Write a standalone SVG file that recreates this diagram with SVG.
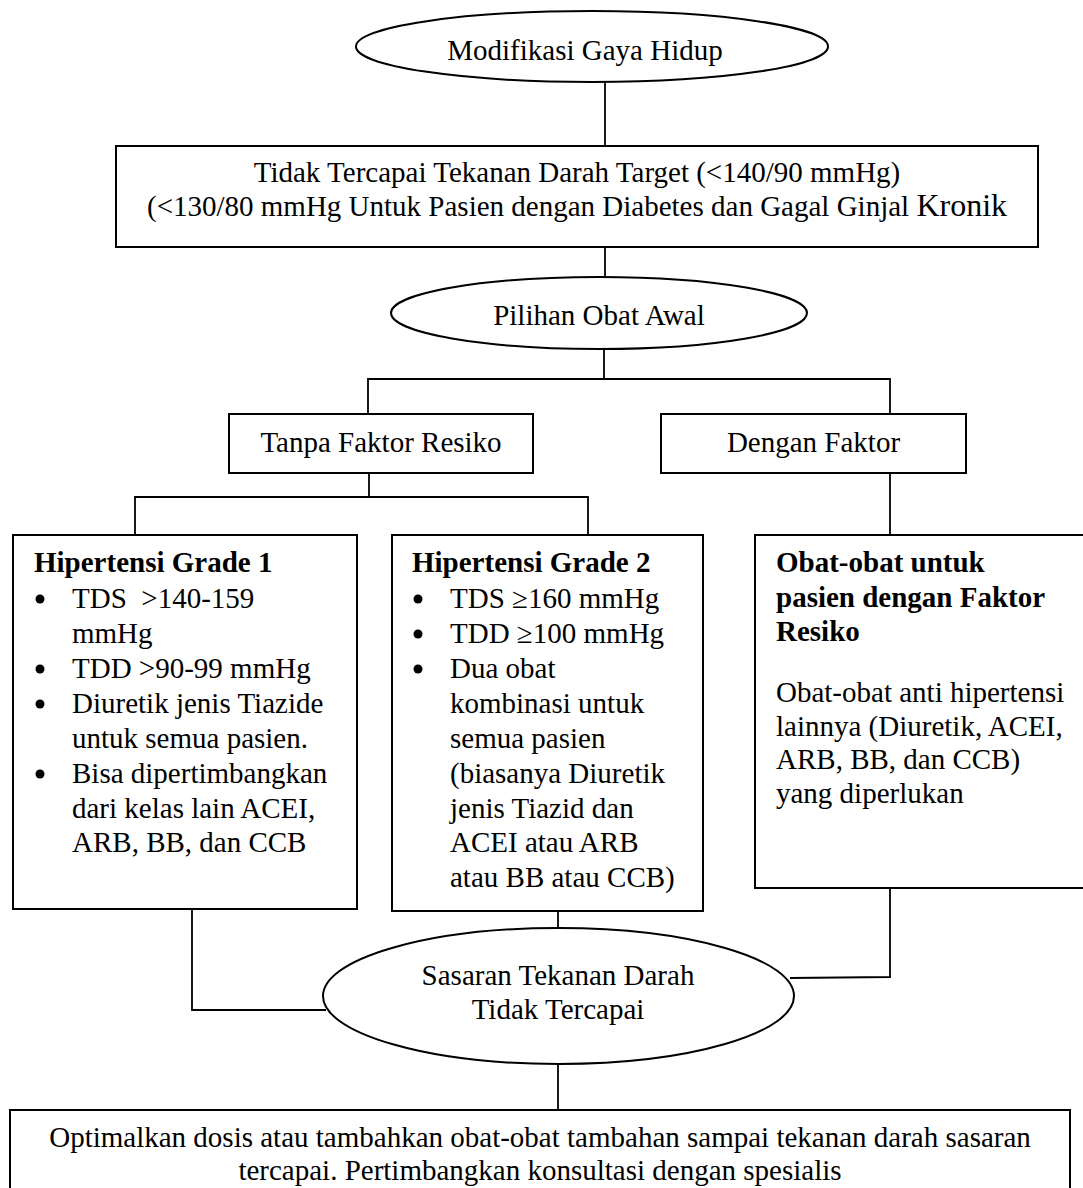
<svg xmlns="http://www.w3.org/2000/svg" width="1083" height="1188" viewBox="0 0 1083 1188">
<style>
  text { font-family: "Liberation Serif", "Times New Roman", serif; font-size: 29px; fill: #000; }
  .c { text-anchor: middle; }
  .b { font-weight: bold; }
  .shape { fill: #fff; stroke: #000; stroke-width: 2; }
  .conn { fill: none; stroke: #000; stroke-width: 1.8; }
  .dot { fill: #000; }
</style>
<rect width="1083" height="1188" fill="#fff"/>
<g id="connectors">
  <line class="conn" x1="605" y1="82" x2="605" y2="146"/>
  <line class="conn" x1="605" y1="247" x2="605" y2="277"/>
  <line class="conn" x1="604" y1="349" x2="604" y2="379"/>
  <polyline class="conn" points="368,414 368,379 890,379 890,414"/>
  <line class="conn" x1="369" y1="473" x2="369" y2="497"/>
  <polyline class="conn" points="135,535 135,497 588,497 588,535"/>
  <line class="conn" x1="890" y1="473" x2="890" y2="535"/>
  <polyline class="conn" points="192,909 192,1010 326,1010"/>
  <line class="conn" x1="558" y1="911" x2="558" y2="928"/>
  <polyline class="conn" points="890,888 890,977 790,978"/>
  <line class="conn" x1="558" y1="1064" x2="558" y2="1110"/>
</g>
<g id="modifikasi">
  <ellipse class="shape" cx="592" cy="46.5" rx="236" ry="35.5"/>
  <text class="c" x="585" y="60">Modifikasi Gaya Hidup</text>
</g>
<g id="target">
  <rect class="shape" x="116" y="146" width="922" height="101"/>
  <text class="c" x="577" y="182">Tidak Tercapai Tekanan Darah Target (&lt;140/90 mmHg)</text>
  <text class="c" x="577" y="216">(&lt;130/80 mmHg Untuk Pasien dengan Diabetes dan Gagal Ginjal <tspan font-size="32">Kronik</tspan></text>
</g>
<g id="pilihan">
  <ellipse class="shape" cx="599" cy="313" rx="208" ry="36"/>
  <text class="c" x="599" y="325">Pilihan Obat Awal</text>
</g>
<g id="tanpa">
  <rect class="shape" x="229" y="414" width="304" height="59"/>
  <text class="c" x="381" y="452">Tanpa Faktor Resiko</text>
</g>
<g id="dengan">
  <rect class="shape" x="661" y="414" width="305" height="59"/>
  <text class="c" x="813.5" y="452">Dengan Faktor</text>
</g>
<g id="grade1">
  <rect class="shape" x="13" y="535" width="344" height="374"/>
  <text class="b" x="34" y="572">Hipertensi Grade 1</text>
  <circle class="dot" cx="40" cy="599" r="4.5"/>
  <text x="72" y="608" xml:space="preserve">TDS  &gt;140-159</text>
  <text x="72" y="643">mmHg</text>
  <circle class="dot" cx="40" cy="669" r="4.5"/>
  <text x="72" y="678">TDD &gt;90-99 mmHg</text>
  <circle class="dot" cx="40" cy="704" r="4.5"/>
  <text x="72" y="713">Diuretik jenis Tiazide</text>
  <text x="72" y="748">untuk semua pasien.</text>
  <circle class="dot" cx="40" cy="774" r="4.5"/>
  <text x="72" y="783">Bisa dipertimbangkan</text>
  <text x="72" y="818">dari kelas lain ACEI,</text>
  <text x="72" y="852">ARB, BB, dan CCB</text>
</g>
<g id="grade2">
  <rect class="shape" x="392" y="535" width="311" height="376"/>
  <text class="b" x="412" y="572">Hipertensi Grade 2</text>
  <circle class="dot" cx="418" cy="599" r="4.5"/>
  <text x="450" y="608">TDS ≥160 mmHg</text>
  <circle class="dot" cx="418" cy="634" r="4.5"/>
  <text x="450" y="643">TDD ≥100 mmHg</text>
  <circle class="dot" cx="418" cy="669" r="4.5"/>
  <text x="450" y="678">Dua obat</text>
  <text x="450" y="713">kombinasi untuk</text>
  <text x="450" y="748">semua pasien</text>
  <text x="450" y="783">(biasanya Diuretik</text>
  <text x="450" y="818">jenis Tiazid dan</text>
  <text x="450" y="852">ACEI atau ARB</text>
  <text x="450" y="887">atau BB atau CCB)</text>
</g>
<g id="obat">
  <rect class="shape" x="755" y="535" width="340" height="353"/>
  <text class="b" x="776" y="572">Obat-obat untuk</text>
  <text class="b" x="776" y="607">pasien dengan Faktor</text>
  <text class="b" x="776" y="641">Resiko</text>
  <text x="776" y="702">Obat-obat anti hipertensi</text>
  <text x="776" y="735.5">lainnya (Diuretik, ACEI,</text>
  <text x="776" y="769">ARB, BB, dan CCB)</text>
  <text x="776" y="802.5">yang diperlukan</text>
</g>
<g id="sasaran">
  <ellipse class="shape" cx="558.5" cy="996" rx="235.5" ry="68"/>
  <text class="c" x="558" y="985">Sasaran Tekanan Darah</text>
  <text class="c" x="558" y="1019">Tidak Tercapai</text>
</g>
<g id="optimalkan">
  <rect class="shape" x="10" y="1110" width="1060" height="100"/>
  <text class="c" x="540" y="1147">Optimalkan dosis atau tambahkan obat-obat tambahan sampai tekanan darah sasaran</text>
  <text class="c" x="540" y="1180">tercapai. Pertimbangkan konsultasi dengan spesialis</text>
</g>
</svg>
